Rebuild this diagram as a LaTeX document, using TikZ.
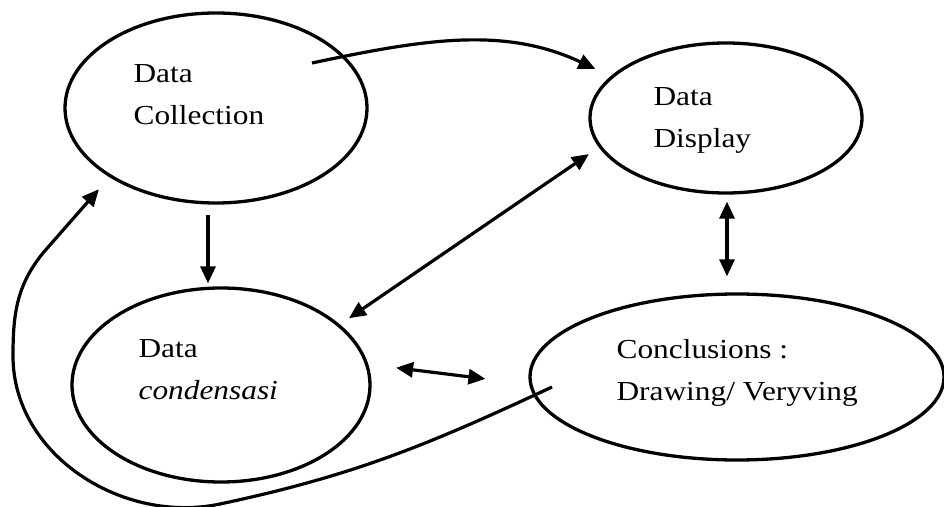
\documentclass[tikz,border=0pt]{standalone}
\usepackage{fontspec}
\setmainfont{Liberation Serif}[FakeStretch=1.14]
\usetikzlibrary{shapes.geometric,arrows.meta,calc}

\begin{document}
\begin{tikzpicture}[x=1pt,y=1pt,>={Triangle[length=17pt,width=15pt]},line width=3.2pt,line join=round,
	stage/.style={ellipse,draw,inner sep=0pt,line width=3.3pt},
	txt/.style={anchor=base west,align=left,inner sep=0pt,font=\fontsize{27.5}{42}\selectfont}]
	\useasboundingbox (0,0) rectangle (944,506);
	% the four stages
	\node[stage,minimum width=302pt,minimum height=190pt] (coll) at (216,398) {};
	\node[stage,minimum width=272pt,minimum height=150pt] (disp) at (726,388) {};
	\node[stage,minimum width=298pt,minimum height=194pt] (cond) at (221,121) {};
	\node[stage,minimum width=414pt,minimum height=166pt] (conc) at (737,129) {};
	\node[txt] (collTxt) at (132,381) {Data\\Collection};
	\node[txt] (dispTxt) at (652,358) {Data\\Display};
	\node[txt] (condTxt) at (137,106) {Data\\\textit{condensasi}};
	\node[txt] (concTxt) at (615,105) {Conclusions :\\Drawing/ Veryving};
	% arrows
	\draw[->,shorten >=17pt] ($(coll.center)+(96,45)$) to[out=12,in=155] (disp.160);
	\draw[->,shorten <=10pt,shorten >=3pt] ([xshift=-8pt]coll.south) -- ([xshift=-13pt]cond.north);
	\draw[<->,shorten <=12pt,shorten >=11pt] (disp.193) -- (cond.27);
	\draw[<->,shorten <=7pt,shorten >=16pt] ([xshift=1pt]disp.south) -- ([xshift=-10pt]conc.north);
	\draw[<->,shorten <=28pt,shorten >=44pt] (cond.8) -- (conc.182);
	\draw[->,shorten >=16pt] ($(conc.center)+(-185,-10)$) to[out=205,in=12] (220,2)
		to[out=192,in=-90] (13,150) to[out=90,in=231] (43,253) -- (coll.213);
\end{tikzpicture}
\end{document}
